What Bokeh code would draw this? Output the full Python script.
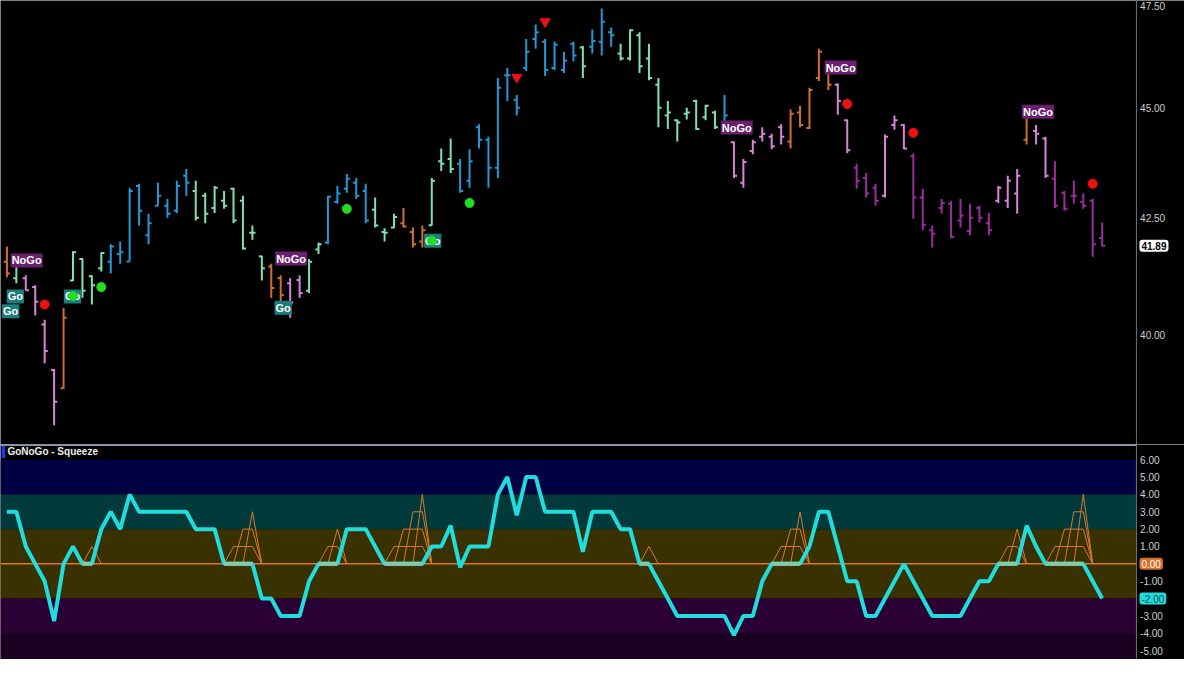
from bokeh.plotting import figure
from bokeh.layouts import column
from bokeh.models import (Range1d, Label, BoxAnnotation, Span, ColumnDataSource)
from bokeh.core.properties import value
from bokeh.embed import file_html
from bokeh.resources import INLINE

# ---------------- data ----------------
opens = [41.54, 41.19, 41.19, 41.00, 40.21, 39.27, 38.90, 41.14, 41.60, 41.23,
         41.40, 41.54, 41.71, 41.55, 43.21, 42.12, 42.77, 42.77, 42.66, 43.44,
         43.10, 42.99, 42.72, 42.88, 43.15, 42.88, 42.17, 41.66, 41.44, 41.19,
         41.08, 41.15, 40.92, 41.81, 41.96, 42.86, 43.15, 43.28, 43.10, 42.68,
         42.19, 42.29, 42.38, 42.19, 41.98, 42.34, 43.77, 43.82, 43.71, 43.33,
         44.55, 44.26, 43.62, 45.77, 45.19, 45.94, 46.64, 46.57, 45.94, 45.89,
         46.52, 46.43, 46.45, 46.57, 46.80, 46.29, 46.17, 46.73, 46.17, 45.54,
         44.82, 44.71, 44.86, 45.16, 44.78, 44.89, 44.55, 44.20, 43.28, 44.00,
         44.33, 44.33, 44.55, 44.22, 44.89, 44.53, 45.70, 45.82, 45.54, 44.71,
         43.62, 43.39, 43.17, 42.99, 44.60, 44.60, 43.88, 42.95, 42.23, 42.72,
         42.81, 42.44, 42.21, 42.72, 42.38, 42.88, 42.88, 43.04, 44.26, 44.46,
         44.29, 43.37, 43.06, 42.99, 42.86, 42.88, 42.06]
highs = [41.87, 41.71, 41.25, 41.04, 40.31, 39.29, 40.56, 41.77, 41.62, 41.25,
         41.75, 41.92, 41.98, 43.17, 43.26, 42.59, 43.28, 42.92, 43.33, 43.59,
         43.33, 43.06, 43.21, 43.10, 43.17, 42.99, 42.33, 41.67, 41.50, 41.25,
         41.19, 41.25, 41.60, 41.96, 42.99, 43.21, 43.48, 43.39, 43.26, 42.95,
         42.27, 42.59, 42.72, 42.29, 42.33, 43.39, 44.06, 44.29, 43.82, 44.04,
         44.62, 44.33, 45.70, 45.94, 45.30, 46.64, 46.99, 46.64, 46.57, 46.33,
         46.57, 46.47, 46.87, 47.38, 46.92, 46.52, 46.87, 46.80, 46.52, 45.70,
         45.16, 44.73, 45.00, 45.19, 45.07, 44.93, 45.30, 44.22, 43.82, 44.26,
         44.55, 44.40, 44.62, 44.96, 45.05, 45.47, 46.40, 46.05, 45.58, 44.73,
         43.71, 43.50, 43.26, 44.38, 44.82, 44.62, 43.95, 43.15, 42.33, 42.92,
         42.88, 42.92, 42.81, 42.77, 42.61, 43.21, 43.44, 43.59, 44.96, 44.60,
         44.33, 43.77, 43.10, 43.33, 43.04, 42.92, 42.40]
lows = [41.21, 41.08, 40.92, 40.40, 39.41, 38.16, 38.89, 41.13, 40.77, 40.63,
        41.33, 41.29, 41.50, 41.54, 42.33, 41.92, 42.77, 42.50, 42.61, 42.99,
        42.44, 42.38, 42.61, 42.70, 42.38, 41.81, 42.02, 41.14, 40.77, 40.52,
        40.35, 40.77, 40.87, 41.71, 41.92, 42.81, 43.06, 42.92, 42.38, 42.29,
        41.98, 42.27, 42.29, 41.85, 41.85, 42.33, 43.55, 43.50, 43.06, 43.17,
        44.06, 43.17, 43.39, 45.16, 44.82, 45.87, 46.40, 45.75, 45.89, 45.82,
        46.10, 45.70, 46.29, 46.24, 46.45, 46.12, 46.12, 45.82, 45.65, 44.55,
        44.51, 44.22, 44.73, 44.49, 44.71, 44.51, 44.44, 43.39, 43.17, 43.93,
        44.22, 44.04, 44.15, 44.06, 44.55, 44.51, 45.63, 45.42, 44.84, 43.95,
        43.15, 42.95, 42.77, 42.95, 44.49, 44.04, 42.48, 42.23, 41.85, 42.59,
        42.06, 42.29, 42.12, 42.40, 42.12, 42.83, 42.72, 42.59, 44.15, 44.15,
        43.39, 42.72, 42.66, 42.81, 42.70, 41.65, 41.87]
closes = [41.29, 41.50, 40.93, 40.69, 39.66, 38.63, 40.35, 41.75, 40.92, 41.04,
          41.73, 41.87, 41.75, 43.10, 42.66, 42.38, 42.99, 42.59, 43.21, 43.28,
          42.50, 42.59, 43.17, 42.77, 42.44, 41.83, 42.17, 41.40, 40.98, 40.83,
          40.67, 40.87, 41.54, 41.92, 42.97, 43.04, 43.37, 42.99, 42.44, 42.33,
          42.17, 42.52, 42.31, 41.92, 42.23, 43.33, 43.71, 43.59, 43.10, 43.77,
          44.26, 43.62, 45.47, 45.77, 45.00, 46.33, 46.80, 45.89, 46.50, 46.12,
          46.24, 45.98, 46.59, 47.06, 46.73, 46.17, 46.85, 45.98, 45.70, 45.00,
          44.89, 44.66, 44.89, 44.51, 45.05, 44.55, 44.82, 43.44, 43.75, 44.20,
          44.40, 44.11, 44.33, 44.86, 44.60, 45.42, 46.33, 45.54, 45.16, 44.02,
          43.33, 43.04, 42.88, 44.33, 44.71, 44.06, 42.95, 42.35, 42.15, 42.83,
          42.08, 42.55, 42.50, 42.50, 42.23, 43.17, 43.33, 43.44, 44.82, 44.40,
          43.44, 42.77, 42.70, 42.99, 42.77, 41.92, 41.89]
# trend category of each bar: B strong go, M weak go, O neutral, P weak nogo, D strong nogo
trend = list("OMPPPPOMMMMBBBBBBBBBMMMMMMMMOOPPMMBBBBBMMMOOOMMMBBBBBBBBBBBBBMBBB"
             "MMMMMMMMMMMBPPPPPPOOOOOPPDDDPPPDDDDDDDDDPPPOPPDDDDDD")
osc = [3, 3, 1, 0, -1, -3.3, 0, 1, 0, 0,
       2, 3, 2, 4, 3, 3, 3, 3, 3, 3,
       2, 2, 2, 0, 0, 0, 0, -2, -2, -3,
       -3, -3, -1, 0, 0, 0, 2, 2, 2, 1,
       0, 0, 0, 0, 0, 1, 1, 2.2, -0.2, 1,
       1, 1, 4, 5, 2.8, 5, 5, 3, 3, 3,
       3, 0.7, 3, 3, 3, 2, 2, 0, 0, -1,
       -2, -3, -3, -3, -3, -3, -3, -4.1, -3, -3,
       -1, 0, 0, 0, 0, 1, 3, 3, 1, -1,
       -1, -3, -3, -2, -1, 0, -1, -2, -3, -3,
       -3, -3, -2, -1, -1, 0, 0, 0, 2.2, 1,
       0, 0, 0, 0, 0, -1, -2]
squeeze = [0, 0, 0, 0, 0, 0, 0, 0, 0, 1,
           0, 0, 0, 0, 0, 0, 0, 0, 0, 0,
           0, 0, 0, 0, 1, 2, 3, 0, 0, 0,
           0, 0, 0, 0, 1, 2, 0, 0, 0, 0,
           0, 1, 2, 3, 4, 0, 0, 0, 0, 0,
           0, 0, 0, 0, 0, 0, 0, 0, 0, 0,
           0, 0, 0, 0, 0, 0, 0, 0, 1, 0,
           0, 0, 0, 0, 0, 0, 0, 0, 0, 0,
           0, 0, 1, 2, 3, 0, 0, 0, 0, 0,
           0, 0, 0, 0, 0, 0, 0, 0, 0, 0,
           0, 0, 0, 0, 0, 0, 1, 2, 0, 0,
           0, 1, 2, 3, 4, 0, 0]
go_dot_x = [7, 10, 36, 45, 49]
go_dot_y = [40.81, 41.00, 42.70, 42.00, 42.83]
nogo_dot_x = [4, 89, 96, 115]
nogo_dot_y = [40.63, 45.09, 44.42, 43.26]
tri_x = [54, 57]
tri_y = [45.72, 47.06]
signal_text = ["NoGo", "Go", "Go", "Go", "NoGo", "Go", "Go", "NoGo", "NoGo", "NoGo"]
signal_x = [2.09, 0.89, 0.40, 6.95, 30.1, 29.26, 45.1, 77.3, 88.3, 109.2]
signal_y = [41.57, 40.80, 40.49, 40.80, 41.61, 40.56, 42.00, 44.54, 45.95, 44.91]
price_ticks = [40.0, 42.5, 45.0, 47.5]
osc_ticks = [-5, -4, -3, -1, 1, 2, 3, 4, 5, 6]   # 0 and -2 carry value boxes

# ---------------- layout ----------------
FONT = "Liberation Sans"
W, H1, H2 = 1184, 444, 215
n = len(closes)
idx = list(range(n))
X0, X1 = -0.679, 124.72        # full canvas width
AXX = 119.63                   # price-scale line
LABX = 120.02                  # tick label anchor
BOXX = 119.95                  # value box anchor
xr = Range1d(X0, X1)
AXC = "#6c7580"
TXC = "#cfcfcf"


def make_fig(h, yr, ytype="linear"):
    f = figure(width=W, height=h, x_range=xr, y_range=yr, y_axis_type=ytype,
               x_axis_location=None, y_axis_location=None,
               output_backend="svg", toolbar_location=None,
               min_border_left=0, min_border_right=0, min_border_top=0,
               min_border_bottom=0, background_fill_color="black",
               border_fill_color="black", outline_line_color=None)
    f.grid.visible = False
    f.add_layout(Span(location=AXX, dimension="height", line_color=AXC,
                      line_width=1, level="overlay"))
    return f


p1 = make_fig(H1, Range1d(37.78, 47.58), "log")

cmap = {"B": "#2398d6", "M": "#7fe0b4", "O": "#cf6f2c", "P": "#d785d6", "D": "#9a2c9c"}
src = ColumnDataSource(dict(
    x=idx, xl=[i - 0.33 for i in idx], xr=[i + 0.33 for i in idx],
    o=opens, h=highs, l=lows, c=closes, col=[cmap[t] for t in trend]))
p1.segment(x0="x", y0="l", x1="x", y1="h", source=src, line_color="col", line_width=2)
p1.segment(x0="xl", y0="o", x1="x", y1="o", source=src, line_color="col", line_width=2)
p1.segment(x0="x", y0="c", x1="xr", y1="c", source=src, line_color="col", line_width=2)

for txt, xi, yv in zip(signal_text, signal_x, signal_y):
    p1.add_layout(Label(x=xi, y=yv, text=txt, text_align="center",
                        text_baseline="middle", text_color="white", text_font=FONT,
                        text_font_style="bold", text_font_size="11px",
                        background_fill_color=("#6c1f70" if txt == "NoGo" else "#1b7d7d"),
                        padding=1))

p1.scatter(go_dot_x, go_dot_y, size=9, color="#22dd22", level="overlay")
p1.scatter(nogo_dot_x, nogo_dot_y, size=9, color="#ee1111", level="overlay")
p1.scatter(tri_x, tri_y, marker="inverted_triangle", size=10, color="#ee1111",
           level="overlay")

# price scale labels
p1.text(x=[LABX] * (len(price_ticks) - 1), y=price_ticks[:-1],
        text=[f"{t:.2f}" for t in price_ticks[:-1]], text_baseline="middle",
        text_color=TXC, text_font=value(FONT), text_font_size="10px")
p1.text(x=[LABX], y=price_ticks[-1:], text=[f"{price_ticks[-1]:.2f}"],
        text_baseline="middle", y_offset=2,
        text_color=TXC, text_font=value(FONT), text_font_size="10px")
p1.add_layout(Label(x=BOXX, y=closes[-1], text=f"{closes[-1]:.2f}",
                    text_baseline="middle", text_color="black", text_font=FONT,
                    text_font_style="bold", text_font_size="10px",
                    background_fill_color="white", padding=2, border_radius=3))

# ---------------- oscillator panel ----------------
p2 = make_fig(H2, Range1d(-5.51, 6.875))

for bot, top, colr in [(4, 6, "#000042"), (2, 4, "#003a3b"), (-2, 2, "#3a3100"),
                       (-4, -2, "#2b0034"), (-20, -4, "#190020")]:
    p2.add_layout(BoxAnnotation(bottom=bot, top=top, right=AXX, fill_color=colr,
                                fill_alpha=1, line_color=None, level="underlay"))
p2.segment(x0=[X0], y0=[0], x1=[AXX], y1=[0], line_color="#e0742a", line_width=1.5)

sq_xs, sq_ys = [], []
i = 0
while i < n:
    if squeeze[i] > 0:
        j = i
        while j + 1 < n and squeeze[j + 1] > 0:
            j += 1
        for k in range(i, j + 1):
            c = squeeze[k]
            sq_xs.append([k - 1, k, j, j + 1])
            sq_ys.append([0, c, c, 0])
        i = j + 1
    else:
        i += 1
p2.multi_line(sq_xs, sq_ys, line_color="#d9782c", line_width=1)

p2.line(idx, osc, line_color="#20dcdc", line_width=4)
zero_y = [0 if osc[k] == 0 and ((k > 0 and osc[k - 1] == 0) or (k < n - 1 and osc[k + 1] == 0))
          else float("nan") for k in range(n)]
p2.line(idx, zero_y, line_color="#86c9a9", line_width=4)

# separator between the panes
p2.segment(x0=[X0], y0=[6.84], x1=[AXX], y1=[6.84], line_color="#8d9db1", line_width=2)

p2.add_layout(Label(x=-0.55, y=6.45, text="▌", text_baseline="middle",
                    text_color="#2336d8", text_font_size="10px"))
p2.add_layout(Label(x=0.05, y=6.45, text="GoNoGo - Squeeze",
                    text_baseline="middle", text_color="#ececec", text_font=FONT,
                    text_font_style="bold", text_font_size="10px"))

p2.text(x=[LABX] * len(osc_ticks), y=osc_ticks,
        text=[f"{t:.2f}" for t in osc_ticks], text_baseline="middle",
        text_color=TXC, text_font=value(FONT), text_font_size="10px")
p2.add_layout(Label(x=BOXX, y=0, text="0.00",
                    text_baseline="middle", text_color="white", text_font=FONT,
                    text_font_size="10px", background_fill_color="#d8712a",
                    padding=2, border_radius=3))
p2.add_layout(Label(x=BOXX, y=osc[-1], text=f"{osc[-1]:.2f}",
                    text_baseline="middle", text_color="#0d4f55", text_font=FONT,
                    text_font_size="10px", background_fill_color="#22dcdc",
                    padding=2, border_radius=3))

layout = column(p1, p2, spacing=0)
open("out.html", "w").write(file_html(layout, INLINE))
